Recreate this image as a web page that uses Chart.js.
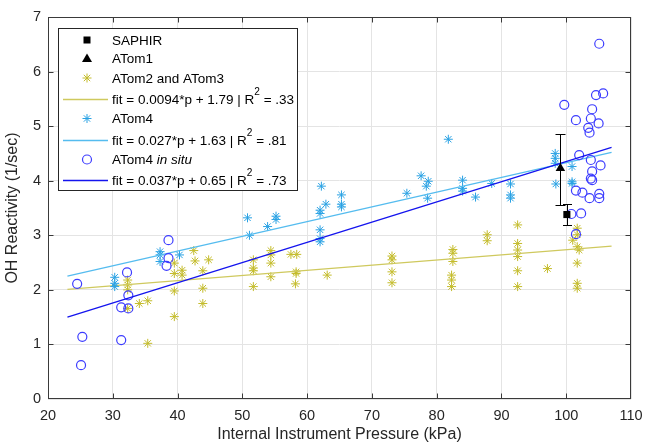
<!DOCTYPE html>
<html>
<head>
<meta charset="utf-8">
<script src="https://cdn.jsdelivr.net/npm/chart.js@4.4.0/dist/chart.umd.min.js"></script>
<style>
  html, body { margin: 0; padding: 0; background: #fff; }
</style>
</head>
<body>
<canvas id="chart" width="645" height="447"></canvas>
<script>
// Data
const saphirX = [100.1];
const saphirY = [3.38];
const saphirLo = [3.18];
const saphirHi = [3.57];

const atom1X = [99.1];
const atom1Y = [4.23];
const atom1Lo = [3.56];
const atom1Hi = [4.85];

const atom23X = [32.3, 32.3, 32.3, 32.3, 34.1, 35.4, 35.4, 39.5, 39.5, 39.5, 39.5, 40.7, 40.7,
  42.5, 42.7, 43.9, 43.9, 43.9, 44.8, 51.7, 51.7, 51.7, 51.7, 54.4, 54.4, 54.4, 54.4,
  57.5, 58.4, 58.3, 58.3, 58.2, 63.1, 73.1, 73.1, 73.1, 73.1, 82.5, 82.5, 82.5, 82.3, 82.3, 82.3,
  87.8, 87.8, 92.5, 92.5, 92.5, 92.5, 92.5, 92.5, 97.1, 101.7, 101.7, 101.7, 101.7, 101.7, 101.7,
  101.0, 102.0];
const atom23Y = [2.18, 2.09, 2.00, 1.66, 1.75, 1.80, 1.02, 2.49, 2.30, 1.98, 1.51, 2.36, 2.27,
  2.72, 2.53, 2.35, 2.03, 1.75, 2.55, 2.55, 2.40, 2.35, 2.06, 2.72, 2.64, 2.49, 2.24,
  2.65, 2.65, 2.33, 2.30, 2.11, 2.27, 2.62, 2.55, 2.33, 2.13, 2.74, 2.67, 2.52, 2.27, 2.18, 2.06,
  3.01, 2.90, 3.19, 2.85, 2.73, 2.61, 2.35, 2.06, 2.39, 3.13, 3.01, 2.79, 2.49, 2.12, 2.03,
  2.91, 2.73];

const atom4X = [30.3, 30.3, 30.3, 37.3, 37.3, 37.3, 40.3, 50.8, 51.1, 53.9, 55.2, 55.2,
  62.2, 62.9, 62.0, 62.0, 62.0, 62.0, 62.0, 65.3, 65.3, 65.3, 75.4, 77.6, 78.7, 78.4, 78.6,
  81.8, 84.0, 84.0, 84.0, 86.0, 88.5, 91.4, 91.4, 91.4, 98.3, 98.3, 98.3, 98.4, 100.9, 100.9, 100.9];
const atom4Y = [2.23, 2.12, 2.06, 2.70, 2.64, 2.52, 2.64, 3.32, 3.00, 3.16, 3.35, 3.29,
  3.90, 3.57, 3.46, 3.40, 3.10, 2.94, 2.88, 3.74, 3.57, 3.52, 3.77, 4.09, 3.99, 3.90, 3.68,
  4.76, 4.01, 3.86, 3.81, 3.70, 3.95, 3.94, 3.74, 3.68, 4.50, 4.41, 4.32, 3.94, 4.26, 3.98, 3.95];

const insituX = [24.5, 25.3, 25.1, 31.3, 31.3, 32.2, 32.4, 32.4, 38.6, 38.6, 38.3,
  105.1, 99.7, 104.6, 105.7, 104.0, 101.5, 103.8, 105.0, 103.4, 103.6, 102.0, 103.8, 105.3,
  104.0, 103.8, 104.0, 101.5, 102.5, 103.6, 105.1, 105.1, 100.8, 102.3, 101.5];
const insituY = [2.11, 1.14, 0.62, 1.08, 1.68, 2.32, 1.90, 1.66, 2.91, 2.58, 2.44,
  6.51, 5.39, 5.57, 5.60, 5.31, 5.11, 5.14, 5.05, 4.97, 4.88, 4.47, 4.38, 4.28,
  4.17, 4.04, 4.01, 3.82, 3.78, 3.68, 3.76, 3.68, 3.39, 3.40, 3.02];

// fit line end points
const fitX = [23, 107];
const fit23Y = [2.01, 2.80];
const fit4Y = [2.25, 4.52];
const fitInsituY = [1.50, 4.61];

const xMin = 20, xMax = 110, xStep = 10;
const yMin = 0, yMax = 7, yStep = 1;

const yellow = "#c4bc2c";
const yellowLine = "#cfc95e";
const cyan = "#2aa2e4";
const cyanLine = "#55bcef";
const blueMark = "#3c3cff";
const blueLine = "#1414ee";
const FONT = "'Liberation Sans', Arial, sans-serif";

function pts(xs, ys) {
  return xs.map((x, i) => ({ x: x, y: ys[i] }));
}

// error bars for SAPHIR and ATom1
const errorBars = {
  id: "errorBars",
  afterDatasetsDraw(chart) {
    const ctx = chart.ctx;
    const xs = chart.scales.x, ys = chart.scales.y;
    const bars = [
      { x: saphirX[0], lo: saphirLo[0], hi: saphirHi[0], cap: 4.5 },
      { x: atom1X[0], lo: atom1Lo[0], hi: atom1Hi[0], cap: 5 }
    ];
    ctx.save();
    ctx.strokeStyle = "#000";
    ctx.lineWidth = 1;
    bars.forEach(b => {
      const px = Math.round(xs.getPixelForValue(b.x)) + 0.5;
      const y1 = Math.round(ys.getPixelForValue(b.lo)) + 0.5;
      const y2 = Math.round(ys.getPixelForValue(b.hi)) + 0.5;
      ctx.beginPath();
      ctx.moveTo(px, y1); ctx.lineTo(px, y2);
      ctx.moveTo(px - b.cap, y1); ctx.lineTo(px + b.cap, y1);
      ctx.moveTo(px - b.cap, y2); ctx.lineTo(px + b.cap, y2);
      ctx.stroke();
    });
    ctx.restore();
  }
};

// box, inward ticks and legend
const frame = {
  id: "frame",
  afterDraw(chart) {
    const ctx = chart.ctx;
    const a = chart.chartArea;
    const xs = chart.scales.x, ys = chart.scales.y;
    const L = Math.round(a.left) + 0.5, R = Math.round(a.right) - 0.5;
    const T = Math.round(a.top) + 0.5, B = Math.round(a.bottom) - 0.5;
    ctx.save();
    ctx.strokeStyle = "#3a3a3a";
    ctx.lineWidth = 1;
    ctx.strokeRect(L, T, R - L, B - T);
    ctx.beginPath();
    for (let v = xMin + xStep; v < xMax; v += xStep) {
      const px = Math.round(xs.getPixelForValue(v)) + 0.5;
      ctx.moveTo(px, B); ctx.lineTo(px, B - 5);
      ctx.moveTo(px, T); ctx.lineTo(px, T + 5);
    }
    for (let v = yMin + yStep; v < yMax; v += yStep) {
      const py = Math.round(ys.getPixelForValue(v)) + 0.5;
      ctx.moveTo(L, py); ctx.lineTo(L + 5, py);
      ctx.moveTo(R, py); ctx.lineTo(R - 5, py);
    }
    ctx.stroke();

    // legend
    const bx = 58.5, by = 28.5, bw = 239, bh = 162;
    ctx.fillStyle = "#fff";
    ctx.fillRect(bx, by, bw, bh);
    ctx.strokeStyle = "#262626";
    ctx.strokeRect(bx, by, bw, bh);

    const fs = 13.5;
    const mx = 87, tx = 112;
    const rows = [
      { y: 40, mark: "square", text: [{ t: "SAPHIR" }] },
      { y: 58.5, mark: "triangle", text: [{ t: "ATom1" }] },
      { y: 78, mark: "star", color: yellow, text: [{ t: "ATom2 and ATom3" }] },
      { y: 99, line: yellowLine, text: [{ t: "fit = 0.0094*p + 1.79 | R" }, { t: "2", sup: true }, { t: " = .33" }] },
      { y: 118.5, mark: "star", color: cyan, text: [{ t: "ATom4" }] },
      { y: 140, line: cyanLine, text: [{ t: "fit = 0.027*p + 1.63 | R" }, { t: "2", sup: true }, { t: " = .81" }] },
      { y: 159.5, mark: "circle", color: blueMark, text: [{ t: "ATom4 " }, { t: "in situ", it: true }] },
      { y: 180, line: blueLine, text: [{ t: "fit = 0.037*p + 0.65 | R" }, { t: "2", sup: true }, { t: " = .73" }] }
    ];
    rows.forEach(r => {
      if (r.line) {
        ctx.strokeStyle = r.line;
        ctx.lineWidth = 1.3;
        ctx.beginPath();
        ctx.moveTo(63, r.y + 0.5); ctx.lineTo(108, r.y + 0.5);
        ctx.stroke();
      } else if (r.mark === "square") {
        ctx.fillStyle = "#000";
        ctx.fillRect(mx - 3.5, r.y - 3.5, 7, 7);
      } else if (r.mark === "triangle") {
        ctx.fillStyle = "#000";
        ctx.beginPath();
        ctx.moveTo(mx, r.y - 5); ctx.lineTo(mx + 5, r.y + 3.5); ctx.lineTo(mx - 5, r.y + 3.5);
        ctx.closePath(); ctx.fill();
      } else if (r.mark === "star") {
        ctx.strokeStyle = r.color;
        ctx.lineWidth = 1;
        const s = 4.5, d = 3.2;
        ctx.beginPath();
        ctx.moveTo(mx - s, r.y); ctx.lineTo(mx + s, r.y);
        ctx.moveTo(mx, r.y - s); ctx.lineTo(mx, r.y + s);
        ctx.moveTo(mx - d, r.y - d); ctx.lineTo(mx + d, r.y + d);
        ctx.moveTo(mx - d, r.y + d); ctx.lineTo(mx + d, r.y - d);
        ctx.stroke();
      } else if (r.mark === "circle") {
        ctx.strokeStyle = r.color;
        ctx.lineWidth = 1.2;
        ctx.beginPath();
        ctx.arc(mx, r.y, 4.5, 0, Math.PI * 2);
        ctx.stroke();
      }
      let cx = tx;
      ctx.fillStyle = "#000";
      ctx.textBaseline = "middle";
      ctx.textAlign = "left";
      r.text.forEach(seg => {
        const size = seg.sup ? fs * 0.75 : fs;
        ctx.font = (seg.it ? "italic " : "") + size + "px " + FONT;
        ctx.fillText(seg.t, cx, seg.sup ? r.y - 7 : r.y + 1);
        cx += ctx.measureText(seg.t).width;
      });
    });
    ctx.restore();
  }
};

new Chart(document.getElementById("chart"), {
  type: "scatter",
  data: {
    datasets: [
      { label: "SAPHIR", data: pts(saphirX, saphirY), pointStyle: "rect", pointRadius: 5,
        backgroundColor: "#000", borderColor: "#000", borderWidth: 0, order: 0 },
      { label: "ATom1", data: pts(atom1X, atom1Y), pointStyle: "triangle", pointRadius: 5.5,
        backgroundColor: "#000", borderColor: "#000", borderWidth: 0, order: 1 },
      { label: "fit in situ", data: pts(fitX, fitInsituY), showLine: true, pointRadius: 0,
        borderColor: blueLine, borderWidth: 1.3, order: 2 },
      { label: "ATom4 in situ", data: pts(insituX, insituY), pointStyle: "circle", pointRadius: 4.5,
        backgroundColor: "rgba(0,0,0,0)", borderColor: blueMark, borderWidth: 1.2, order: 3 },
      { label: "fit ATom4", data: pts(fitX, fit4Y), showLine: true, pointRadius: 0,
        borderColor: cyanLine, borderWidth: 1.3, order: 4 },
      { label: "ATom4", data: pts(atom4X, atom4Y), pointStyle: "star", pointRadius: 4.5,
        borderColor: cyan, borderWidth: 1, order: 5 },
      { label: "fit ATom2 and ATom3", data: pts(fitX, fit23Y), showLine: true, pointRadius: 0,
        borderColor: yellowLine, borderWidth: 1.3, order: 6 },
      { label: "ATom2 and ATom3", data: pts(atom23X, atom23Y), pointStyle: "star", pointRadius: 4.5,
        borderColor: yellow, borderWidth: 1, order: 7 }
    ]
  },
  options: {
    responsive: false,
    animation: false,
    layout: { padding: { left: 0, top: 17, right: 14, bottom: 0 } },
    plugins: { legend: { display: false }, tooltip: { enabled: false } },
    scales: {
      x: {
        type: "linear", min: xMin, max: xMax,
        afterFit: s => { s.height = 48; s.paddingLeft = 0; s.paddingRight = 0; },
        border: { display: false },
        grid: { color: "#e4e4e4", drawTicks: false },
        ticks: { stepSize: xStep, padding: 8, color: "#262626", font: { family: FONT, size: 14.5 } },
        title: { display: true, text: "Internal Instrument Pressure (kPa)", color: "#262626",
          font: { family: FONT, size: 16 }, padding: { top: 0, bottom: 3 } }
      },
      y: {
        type: "linear", min: yMin, max: yMax,
        afterFit: s => { s.width = 48; s.paddingTop = 0; s.paddingBottom = 0; },
        border: { display: false },
        grid: { color: "#e4e4e4", drawTicks: false },
        ticks: { stepSize: yStep, padding: 7, color: "#262626", font: { family: FONT, size: 14.5 } },
        title: { display: true, text: "OH Reactivity (1/sec)", color: "#262626",
          font: { family: FONT, size: 16 }, padding: { top: 3, bottom: 0 } }
      }
    }
  },
  plugins: [errorBars, frame]
});
</script>
</body>
</html>
